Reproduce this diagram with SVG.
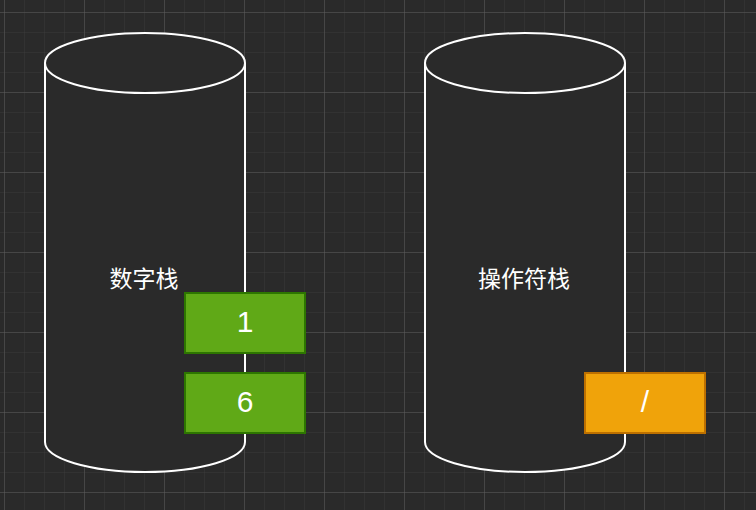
<svg xmlns="http://www.w3.org/2000/svg" width="756" height="510" viewBox="0 0 756 510">
<defs>
<pattern id="minor" x="4" y="12" width="20" height="20" patternUnits="userSpaceOnUse">
<path d="M0 0H20M0 0V20" fill="none" stroke="#3a3a3a" stroke-width="1"/>
</pattern>
<pattern id="major" x="4" y="12" width="80" height="80" patternUnits="userSpaceOnUse">
<path d="M0 0H80M0 0V80" fill="none" stroke="#5a5a5a" stroke-width="1"/>
</pattern>
<style>
.cyl{fill:#2a2a2a;stroke:#ffffff;stroke-width:2}
.lbl{font-family:"Liberation Sans","Noto Sans CJK SC",sans-serif;font-size:23px;fill:#ffffff;text-anchor:middle;dominant-baseline:central}
.num{fill:#60a917;stroke:#2d7600;stroke-width:2}
.op{fill:#f0a30a;stroke:#bd7000;stroke-width:2}
.val{font-family:"Liberation Sans",Arial,sans-serif;font-size:30px;fill:#ffffff;text-anchor:middle;dominant-baseline:central}
</style>
</defs>
<rect width="756" height="510" fill="#2a2a2a"/>
<rect width="756" height="510" fill="url(#minor)"/>
<rect width="756" height="510" fill="url(#major)"/>
<g id="numStack">
<path class="cyl" d="M45 63A100 30 0 0 1 245 63V442A100 30 0 0 1 45 442Z"/>
<path class="cyl" d="M45 63A100 30 0 0 0 245 63" fill="none"/>
<text class="lbl" x="144" y="279">数字栈</text>
</g>
<g id="opStack">
<path class="cyl" d="M425 63A100 30 0 0 1 625 63V442A100 30 0 0 1 425 442Z"/>
<path class="cyl" d="M425 63A100 30 0 0 0 625 63" fill="none"/>
<text class="lbl" x="524" y="279">操作符栈</text>
</g>
<g id="num1">
<rect class="num" x="185" y="293" width="120" height="60"/>
<text class="val" x="245" y="321">1</text>
</g>
<g id="num6">
<rect class="num" x="185" y="373" width="120" height="60"/>
<text class="val" x="245" y="401">6</text>
</g>
<g id="opDiv">
<rect class="op" x="585" y="373" width="120" height="60"/>
<text class="val" x="645" y="401">/</text>
</g>
<g id="connectors"/>
</svg>
